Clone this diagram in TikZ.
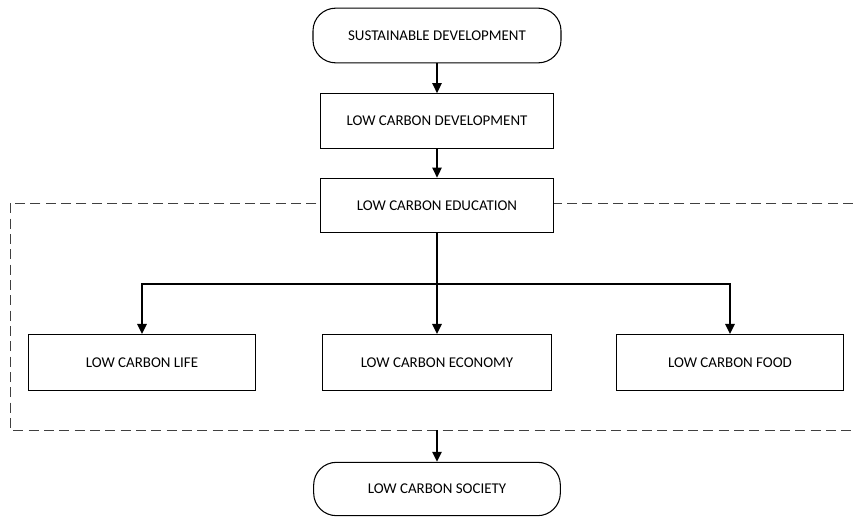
\documentclass[tikz,border=0pt]{standalone}
\usepackage{fontspec}
\setmainfont{Carlito}
\usetikzlibrary{arrows.meta}

\begin{document}
\begin{tikzpicture}[x=0.75pt,y=-0.75pt,
  box/.style={draw,line width=0.8pt,fill=white,minimum height=41pt,font=\fontsize{11.2}{13}\selectfont},
  term/.style={box,rounded corners=17pt},
  arr/.style={line width=1.3pt,-{Triangle[width=7pt,length=7.5pt]}},
  group/.style={line width=0.6pt,black!75,dash pattern=on 7.5pt off 4pt}]
\useasboundingbox (0,0) rectangle (853,517);

% dashed frame round the education part
\draw[group] (853,203) -- (10,203) -- (10,430) -- (853,430);

\node[term,minimum width=186pt] (sd) at (437,35.5) {SUSTAINABLE DEVELOPMENT};
\node[box,minimum width=175pt] (lcdev) at (437,121) {LOW CARBON DEVELOPMENT};
\node[box,minimum width=175pt] (lcedu) at (437,205.5) {LOW CARBON EDUCATION};
\node[box,minimum width=170pt,minimum height=42pt] (life) at (142,362.5) {LOW CARBON LIFE};
\node[box,minimum width=172pt,minimum height=42pt] (econ) at (437,362.5) {LOW CARBON ECONOMY};
\node[box,minimum width=170pt,minimum height=42pt] (food) at (730,362.5) {LOW CARBON FOOD};
\node[term,minimum width=185pt,minimum height=40pt] (soc) at (437,489) {LOW CARBON SOCIETY};

\coordinate (split) at (437,284);
\coordinate (grp) at (437,430);

\draw[arr] (sd) -- (lcdev);
\draw[arr] (lcdev) -- (lcedu);
\draw[line width=1.3pt] (lcedu) -- (split);
\draw[arr] (split) -| (life.north);
\draw[arr] (split) -| (food.north);
\draw[arr] (split) -- (econ);
\draw[arr] (grp) -- (soc);
\end{tikzpicture}
\end{document}
